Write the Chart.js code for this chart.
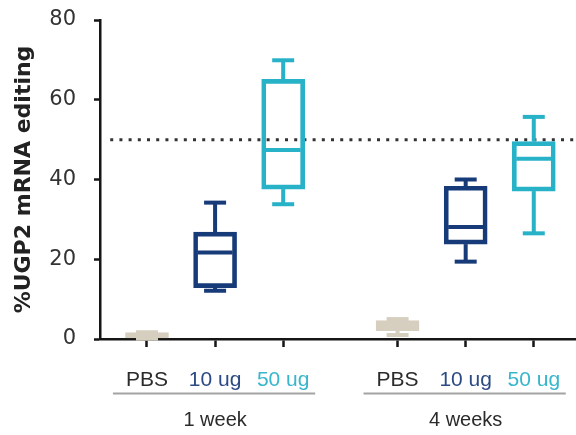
<!DOCTYPE html>
<html>
<head>
<meta charset="utf-8">
<script src="https://cdn.jsdelivr.net/npm/chart.js@4/dist/chart.umd.min.js"></script>
<style>
  html, body { margin: 0; padding: 0; background: #fff; }
  canvas { display: block; }
</style>
</head>
<body>
<canvas id="chart" width="576" height="435"></canvas>
<script>
// Study arms
const groups = ['1 week', '4 weeks'];
const doses = ['PBS', '10 ug', '50 ug'];

// Box-plot summaries, one entry per box:
// 1 week (PBS, 10 ug, 50 ug), then 4 weeks (PBS, 10 ug, 50 ug)
const whiskerLow  = [0.1, 12.1, 33.8, 1.0, 19.4, 26.5];
const quartile1   = [0.3, 12.9, 37.6, 2.1, 23.8, 37.1];
const medians     = [0.9, 21.7, 47.4, 3.3, 28.1, 45.2];
const quartile3   = [1.6, 26.8, 65.1, 4.6, 38.3, 49.5];
const whiskerHigh = [1.7, 34.2, 69.9, 5.0, 40.0, 55.7];

const yTicks = [0, 20, 40, 60, 80];
const referenceLevel = 50;

// Styling
const doseColors  = ['#d6cfc0', '#173a78', '#27b2c8'];
const doseFills   = ['#d6cfc0', 'rgba(0,0,0,0)', 'rgba(0,0,0,0)'];
const labelColors = ['#2b2b2b', '#2c4a84', '#37b6cc'];
const AXIS_COLOR = '#151515';
const BOX_WIDTH = 43;
const STROKE = 4;
const CAP_WIDTH = 22;

// x layout: doses one unit apart, groups separated by a wider gap
const GROUP_STEP = 3.68;
const X_MIN = 0.31, X_MAX = 7.3;
const positions = [];
groups.forEach((g, gi) => doses.forEach((d, di) => positions.push(1 + gi * GROUP_STEP + di)));

const doseOf = i => i % doses.length;

// Whiskers, caps and median lines for each box
const boxWhiskers = {
  id: 'boxWhiskers',
  afterDatasetsDraw(chart) {
    const { ctx, scales: { x, y } } = chart;
    const seg = (x1, y1, x2, y2) => { ctx.beginPath(); ctx.moveTo(x1, y1); ctx.lineTo(x2, y2); ctx.stroke(); };
    ctx.save();
    ctx.lineWidth = STROKE;
    ctx.lineCap = 'butt';
    positions.forEach((pos, i) => {
      const cx = x.getPixelForValue(pos);
      ctx.strokeStyle = doseColors[doseOf(i)];
      const pHi = y.getPixelForValue(whiskerHigh[i]);
      const pLo = y.getPixelForValue(whiskerLow[i]);
      const pQ3 = y.getPixelForValue(quartile3[i]);
      const pQ1 = y.getPixelForValue(quartile1[i]);
      const pMed = y.getPixelForValue(medians[i]);
      seg(cx, pQ3, cx, pHi);
      seg(cx - CAP_WIDTH / 2, pHi, cx + CAP_WIDTH / 2, pHi);
      seg(cx, pQ1, cx, pLo);
      seg(cx - CAP_WIDTH / 2, pLo, cx + CAP_WIDTH / 2, pLo);
      const half = BOX_WIDTH / 2 - STROKE;
      seg(cx - half, pMed, cx + half, pMed);
    });
    ctx.restore();
  }
};

// Group captions with underlines below the dose labels
const groupCaptions = {
  id: 'groupCaptions',
  afterDraw(chart) {
    const { ctx, chartArea, scales: { x } } = chart;
    ctx.save();
    groups.forEach((g, gi) => {
      const first = positions[gi * doses.length];
      const last = positions[gi * doses.length + doses.length - 1];
      const left = x.getPixelForValue(first - 0.5);
      const right = x.getPixelForValue(last + 0.47);
      const lineY = chartArea.bottom + 54.5;
      ctx.strokeStyle = '#a3a3a3';
      ctx.lineWidth = 2;
      ctx.beginPath(); ctx.moveTo(left, lineY); ctx.lineTo(right, lineY); ctx.stroke();
      ctx.fillStyle = '#2b2b2b';
      ctx.font = '20px "Liberation Sans", Arial, sans-serif';
      ctx.textAlign = 'center';
      ctx.textBaseline = 'alphabetic';
      ctx.fillText(g, (x.getPixelForValue(first) + x.getPixelForValue(last)) / 2, chartArea.bottom + 87);
    });
    ctx.restore();
  }
};

new Chart(document.getElementById('chart'), {
  type: 'bar',
  data: {
    datasets: [
      {
        type: 'bar',
        data: positions.map((p, i) => ({ x: p, y: [quartile1[i], quartile3[i]] })),
        backgroundColor: positions.map((p, i) => doseFills[doseOf(i)]),
        borderColor: positions.map((p, i) => doseColors[doseOf(i)]),
        borderWidth: STROKE,
        borderSkipped: false,
        barThickness: BOX_WIDTH,
        order: 1
      },
      {
        type: 'line',
        data: [{ x: X_MIN + 0.15, y: referenceLevel }, { x: X_MAX, y: referenceLevel }],
        borderColor: '#333333',
        borderWidth: 3,
        borderDash: [3, 6.2],
        pointRadius: 0,
        fill: false,
        order: 2
      }
    ]
  },
  options: {
    responsive: false,
    animation: false,
    events: [],
    layout: { padding: { top: 20, right: 0, bottom: 0, left: 0 } },
    plugins: { legend: { display: false }, tooltip: { enabled: false } },
    scales: {
      x: {
        type: 'linear',
        min: X_MIN,
        max: X_MAX,
        offset: false,
        afterBuildTicks: s => { s.ticks = positions.map(v => ({ value: v })); },
        afterFit: s => { s.height = 96; s.paddingLeft = 0; s.paddingRight = 0; },
        ticks: {
          autoSkip: false,
          maxRotation: 0,
          padding: 21,
          font: { family: '"Liberation Sans", Arial, sans-serif', size: 21 },
          color: c => labelColors[doseOf(c.index)],
          callback: (v, i) => doses[doseOf(i)]
        },
        grid: { offset: false, drawOnChartArea: false, drawTicks: true, tickLength: 8, tickWidth: 2.5, tickColor: AXIS_COLOR },
        border: { display: true, color: AXIS_COLOR, width: 2.5 }
      },
      y: {
        min: 0,
        max: 80,
        afterBuildTicks: s => { s.ticks = yTicks.map(v => ({ value: v })); },
        afterFit: s => { s.width = 100; s.paddingTop = 0; s.paddingBottom = 0; },
        ticks: {
          padding: 18,
          font: { family: '"DejaVu Sans", Verdana, sans-serif', size: 21 },
          color: '#333333'
        },
        grid: { drawOnChartArea: false, drawTicks: true, tickLength: 6, tickWidth: 2.5, tickColor: AXIS_COLOR },
        border: { display: true, color: AXIS_COLOR, width: 2.5 },
        title: {
          display: true,
          text: '%UGP2 mRNA editing',
          font: { family: '"DejaVu Sans", Verdana, sans-serif', size: 22, weight: 'bold' },
          color: '#222222',
          padding: { top: 11, bottom: 0 }
        }
      }
    }
  },
  plugins: [boxWhiskers, groupCaptions]
});
</script>
</body>
</html>
